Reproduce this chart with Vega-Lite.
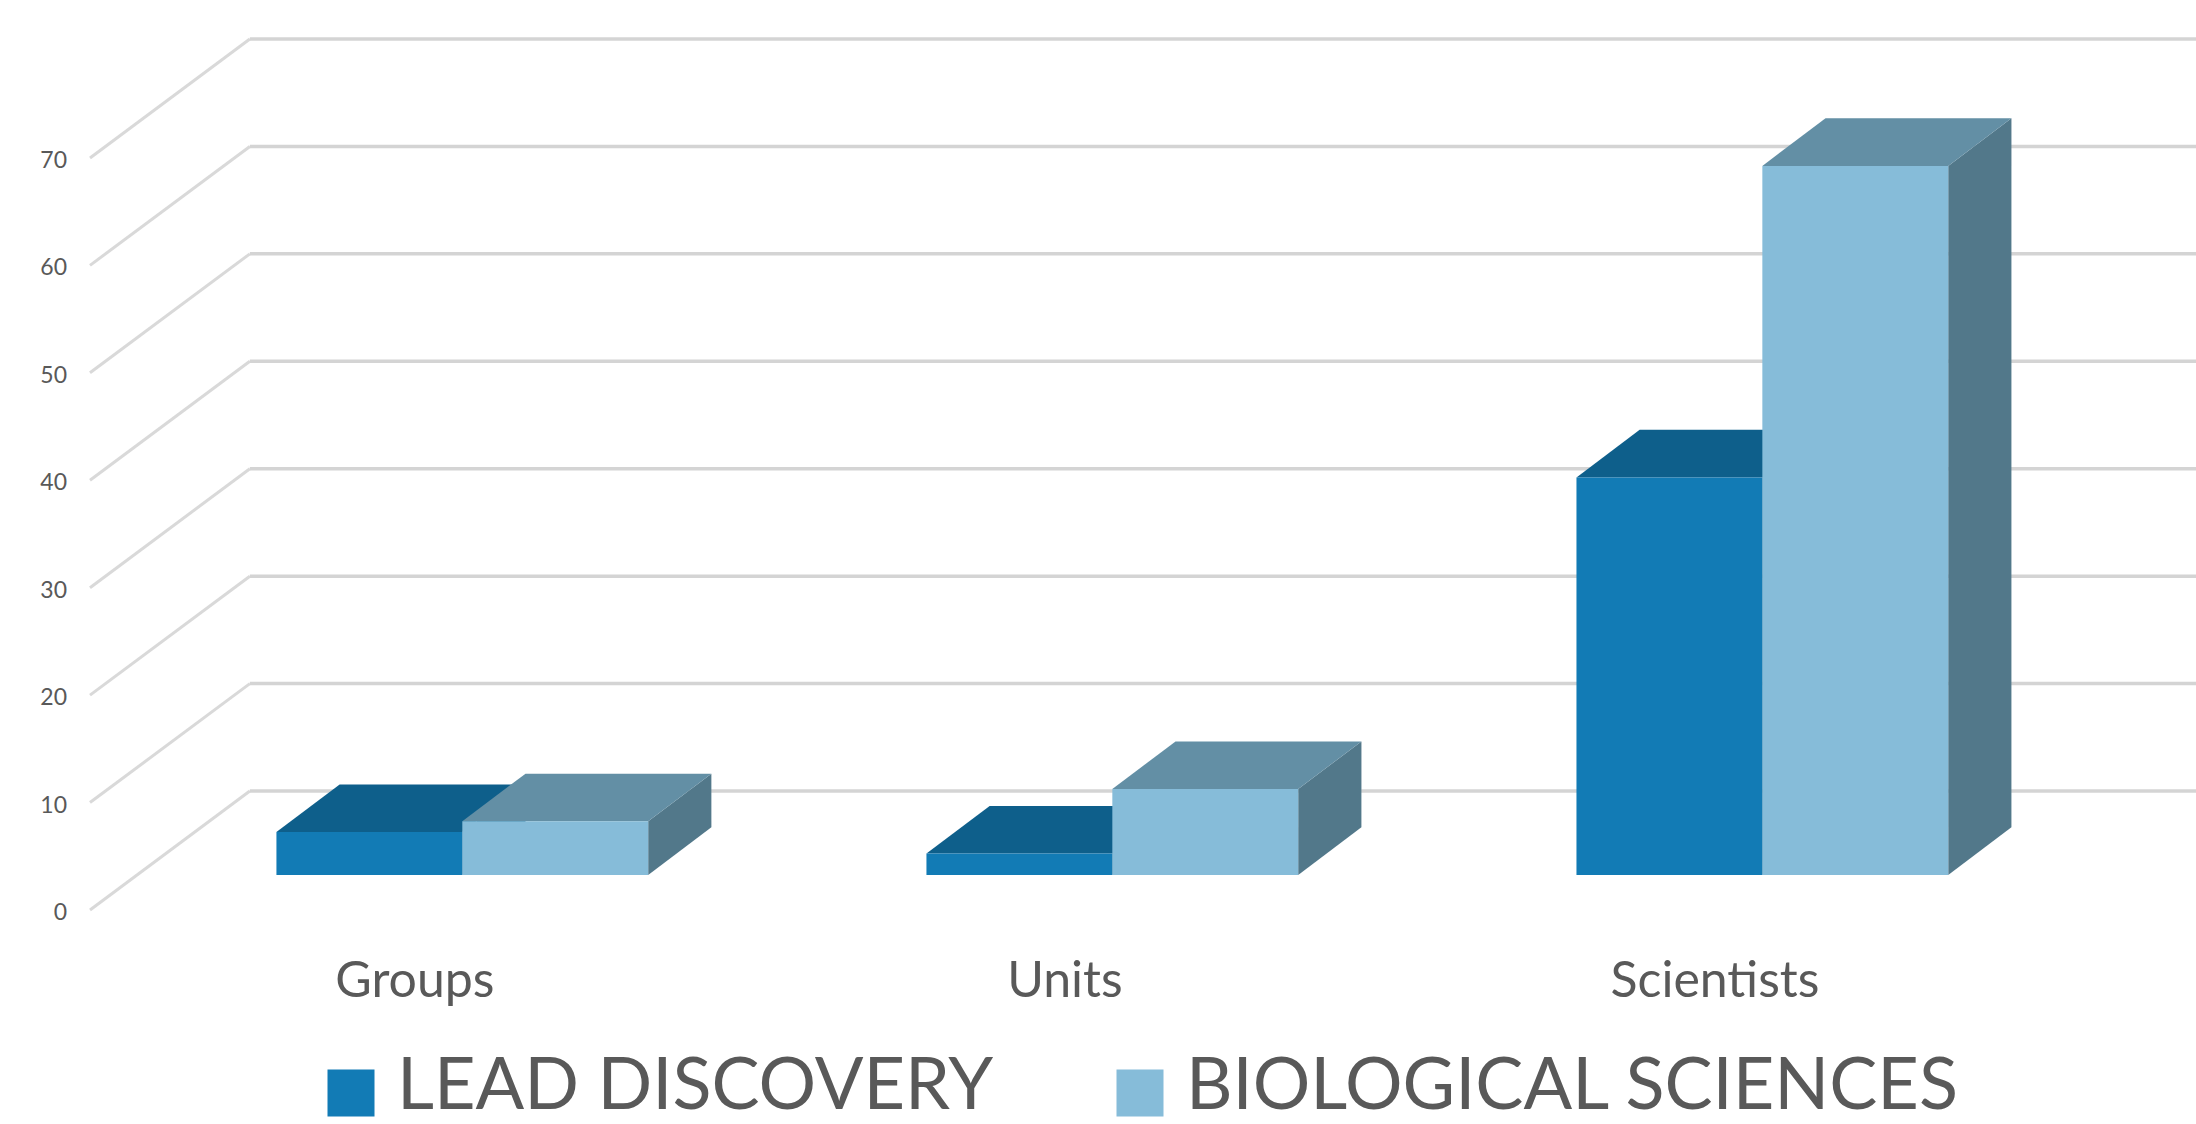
{
"$schema":"https://vega.github.io/schema/vega-lite/v6.json",
"width":2106,"height":1124,
"autosize":{"type":"none"},
"padding":{"left":90,"top":0,"right":0,"bottom":0},
"background":"white",
"config":{"view":{"stroke":null},"font":"Lato"},
"datasets":{
"bars":[
{"group":"Groups","series":"LEAD DISCOVERY","value":4},
{"group":"Groups","series":"BIOLOGICAL SCIENCES","value":5},
{"group":"Units","series":"LEAD DISCOVERY","value":2},
{"group":"Units","series":"BIOLOGICAL SCIENCES","value":8},
{"group":"Scientists","series":"LEAD DISCOVERY","value":37},
{"group":"Scientists","series":"BIOLOGICAL SCIENCES","value":66}
],
"ticks":[{"tick":0},{"tick":10},{"tick":20},{"tick":30},{"tick":40},{"tick":50},{"tick":60},{"tick":70}]
},
"layer":[
{"data":{"name":"ticks"},
 "transform":[{"calculate":"datum.tick+11.07","as":"back"}],
 "layer":[
 {"mark":{"type":"rule","color":"#D9D9D9","strokeWidth":3},
  "encoding":{
   "x":{"datum":0,"type":"quantitative","scale":{"domain":[0,11.33],"nice":false,"zero":false},"axis":null},
   "x2":{"datum":0.86},
   "y":{"field":"tick","type":"quantitative","scale":{"domain":[-19.92,84.7],"nice":false,"zero":false},"axis":null},
   "y2":{"field":"back"}
  }},
 {"mark":{"type":"rule","color":"#D4D4D4","strokeWidth":3.5},
  "encoding":{
   "x":{"datum":0.86,"type":"quantitative","scale":{"domain":[0,11.33],"nice":false,"zero":false},"axis":null},
   "x2":{"datum":11.33},
   "y":{"field":"back","type":"quantitative","scale":{"domain":[-19.92,84.7],"nice":false,"zero":false},"axis":null}
  }},
 {"mark":{"type":"text","font":"Lato","fontSize":23,"color":"#595959","align":"right","baseline":"middle","dx":-23,"dy":3},
  "encoding":{
   "x":{"datum":0,"type":"quantitative","scale":{"domain":[0,11.33],"nice":false,"zero":false},"axis":null},
   "y":{"field":"tick","type":"quantitative","scale":{"domain":[-19.92,84.7],"nice":false,"zero":false},"axis":null},
   "text":{"field":"tick","type":"quantitative"}
  }}
 ]},
{"data":{"name":"bars"},
 "transform":[
  {"calculate":"1.003+3.497*indexof(['Groups','Units','Scientists'],datum.group)+(datum.series=='LEAD DISCOVERY'?0:1)","as":"x0"},
  {"calculate":"datum.x0+1","as":"x1"},
  {"calculate":"datum.value+3.26","as":"top"},
  {"calculate":"3.26","as":"base"},
  {"calculate":"[0,1]","as":"t"},
  {"flatten":["t"]},
  {"calculate":"datum.x0+datum.t*0.34","as":"topL"},
  {"calculate":"datum.x1+datum.t*0.34","as":"topR"},
  {"calculate":"datum.top+datum.t*4.43","as":"depthTop"},
  {"calculate":"datum.base+datum.t*4.43","as":"depthBase"},
  {"calculate":"datum.group+datum.series","as":"bar"}
 ],
 "layer":[
 {"transform":[{"filter":"datum.series=='LEAD DISCOVERY'"}],
  "mark":{"type":"area","color":"#0E5F8B"},
  "encoding":{"x":{"field":"topR","type":"quantitative","stack":null,"scale":{"domain":[0,11.33],"nice":false,"zero":false},"axis":null},
   "y":{"field":"depthTop","type":"quantitative","scale":{"domain":[-19.92,84.7],"nice":false,"zero":false},"axis":null},
   "y2":{"field":"depthBase"},"detail":{"field":"bar"}}},
 {"transform":[{"filter":"datum.series=='LEAD DISCOVERY'"}],
  "mark":{"type":"area","orient":"horizontal","color":"#0E5F8B"},
  "encoding":{"y":{"field":"depthTop","type":"quantitative","stack":null,"scale":{"domain":[-19.92,84.7],"nice":false,"zero":false},"axis":null},
   "x":{"field":"topL","type":"quantitative","scale":{"domain":[0,11.33],"nice":false,"zero":false},"axis":null},
   "x2":{"field":"topR"},"detail":{"field":"bar"}}},
 {"transform":[{"filter":"datum.series=='LEAD DISCOVERY' && datum.t==0"}],
  "mark":{"type":"rect"},
  "encoding":{"x":{"field":"x0","type":"quantitative","scale":{"domain":[0,11.33],"nice":false,"zero":false},"axis":null},
   "x2":{"field":"x1"},
   "y":{"field":"top","type":"quantitative","scale":{"domain":[-19.92,84.7],"nice":false,"zero":false},"axis":null},
   "y2":{"field":"base"},
   "color":{"field":"series","type":"nominal","scale":{"domain":["LEAD DISCOVERY","BIOLOGICAL SCIENCES"],"range":["#127BB5","#86BCD9"]},
    "legend":{"title":null,"orient":"none","direction":"horizontal","legendX":225,"legendY":1057,"symbolType":"square","symbolSize":2209,"symbolStrokeWidth":0,"labelFontSize":72,"labelColor":"#595959","labelFont":"Lato","labelLimit":1000,"labelOffset":10,"columnPadding":110,"labelBaseline":"middle",
     "encode":{"symbols":{"update":{"fill":{"signal":"datum.value=='LEAD DISCOVERY'?'#007CB7':'#81BBDA'"},"opacity":{"value":1},"stroke":{"value":"transparent"}}},"labels":{"update":{"dy":{"value":-6}}}}}}}},
 {"transform":[{"filter":"datum.series=='BIOLOGICAL SCIENCES'"}],
  "mark":{"type":"area","color":"#52788A"},
  "encoding":{"x":{"field":"topR","type":"quantitative","stack":null,"scale":{"domain":[0,11.33],"nice":false,"zero":false},"axis":null},
   "y":{"field":"depthTop","type":"quantitative","scale":{"domain":[-19.92,84.7],"nice":false,"zero":false},"axis":null},
   "y2":{"field":"depthBase"},"detail":{"field":"bar"}}},
 {"transform":[{"filter":"datum.series=='BIOLOGICAL SCIENCES'"}],
  "mark":{"type":"area","orient":"horizontal","color":"#638FA5"},
  "encoding":{"y":{"field":"depthTop","type":"quantitative","stack":null,"scale":{"domain":[-19.92,84.7],"nice":false,"zero":false},"axis":null},
   "x":{"field":"topL","type":"quantitative","scale":{"domain":[0,11.33],"nice":false,"zero":false},"axis":null},
   "x2":{"field":"topR"},"detail":{"field":"bar"}}},
 {"transform":[{"filter":"datum.series=='BIOLOGICAL SCIENCES' && datum.t==0"}],
  "mark":{"type":"rect"},
  "encoding":{"x":{"field":"x0","type":"quantitative","scale":{"domain":[0,11.33],"nice":false,"zero":false},"axis":null},
   "x2":{"field":"x1"},
   "y":{"field":"top","type":"quantitative","scale":{"domain":[-19.92,84.7],"nice":false,"zero":false},"axis":null},
   "y2":{"field":"base"},
   "color":{"field":"series","type":"nominal"}}},
 {"transform":[{"filter":"datum.series=='LEAD DISCOVERY' && datum.t==0"},{"calculate":"datum.x0+0.745","as":"labelX"}],
  "mark":{"type":"text","font":"Lato","fontSize":50,"color":"#595959","align":"center","baseline":"middle"},
  "encoding":{"x":{"field":"labelX","type":"quantitative","scale":{"domain":[0,11.33],"nice":false,"zero":false},"axis":null},
   "y":{"datum":-6.7,"type":"quantitative","scale":{"domain":[-19.92,84.7],"nice":false,"zero":false},"axis":null},
   "text":{"field":"group"}}}
 ]}
]
}
